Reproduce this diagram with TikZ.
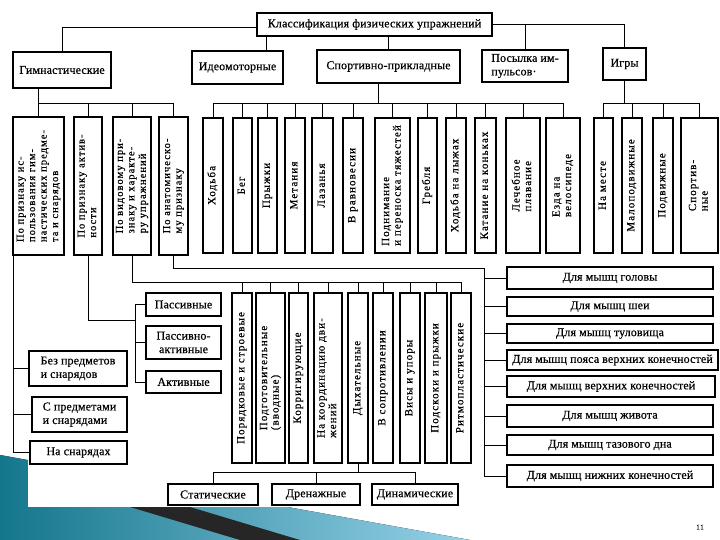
\documentclass[tikz,border=0pt]{standalone}
\usepackage{fontspec}
\setmainfont{Liberation Serif}[LetterSpace=10, FakeBold=0.5]
\newfontfamily\plainfam{Liberation Serif}[LetterSpace=1, FakeBold=0.5]
\usepackage{graphicx}
\usepackage{tikz}
\definecolor{tealdeep}{RGB}{20,118,140}
\definecolor{skylight}{RGB}{150,210,232}
\newcommand{\boxfont}{\plainfam\fontsize{12}{13.5}\selectfont}
\newcommand{\vertfont}{\fontsize{11}{11.5}\selectfont}
\newcommand{\colfont}{\fontsize{10.5}{11.5}\selectfont}
\newcommand{\vt}[1]{\rotatebox{90}{\begin{tabular}{@{}l@{}}#1\end{tabular}}}

\begin{document}
\begin{tikzpicture}[
     x = 1pt, y = -1pt,
     every node/.style = {inner sep = 1pt, outer sep = 0pt},
     box/.style = {draw, black, line width = 1.7pt, anchor = north west,
        align = center, font = \boxfont},
     vbox/.style = {box, font = \vertfont},
     cbox/.style = {box, font = \colfont},
     wh/.style 2 args = {minimum width = #1pt, minimum height = #2pt},
     every path/.style = {line width = .9pt}
     ]
     \useasboundingbox (0,0) rectangle (720,540);

     % slide decoration
     \fill[left color = tealdeep, right color = skylight]
        (0,455) -- (470,540) -- (0,540) -- cycle;
     \fill[white] (28,440) rectangle (480,507);
     \fill[black!85] (130,507) -- (190,507) -- (300,540) -- (240,540) -- cycle;
     \node[font = \fontsize{7}{8}\selectfont] (num) at (700,527) {11};

       \node[box, wh={235}{23}] (top) at (257,13) {Классификация физических упражнений};
       \node[box, wh={98}{36}] (gym) at (13,52) {Гимнастические}; % 0
       \node[box, wh={91}{33}] (ideo) at (192,51) {Идеомоторные}; % 1
       \node[box, wh={143}{33}] (sport) at (317,50) {Спортивно-прикладные}; % 2
       \node[box, wh={86}{32}, align = left] (impuls) at (482,50) {Посылка им-\\пульсов·}; % 3
       \node[box, wh={43}{32}] (games) at (603,48) {Игры}; % 4

       % gymnastics: criteria
       \node[cbox, wh={51}{138}] (c1) at (13,117) {\vt{По признаку ис-\\пользования гим-\\настических предме-\\та и снарядов}};
       \node[cbox, wh={28}{138}] (c2) at (74,117) {\vt{По признаку актив-\\ности}};
       \node[cbox, wh={38}{138}] (c3) at (113,117) {\vt{По видовому при-\\знаку и характе-\\ру упражнений}};
       \node[cbox, wh={29}{138}] (c4) at (159,117) {\vt{По анатомическо-\\му признаку}};

       % sport and applied
       \node[vbox, wh={20}{135}] (hod) at (203,118) {\vt{Ходьба}};
       \node[vbox, wh={19}{135}] (beg) at (233,118) {\vt{Бег}};
       \node[vbox, wh={19}{135}] (pry) at (258,118) {\vt{Прыжки}};
       \node[vbox, wh={20}{135}] (met) at (285,118) {\vt{Метания}};
       \node[vbox, wh={21}{135}] (laz) at (312,118) {\vt{Лазанья}};
       \node[vbox, wh={20}{135}] (ravn) at (343,118) {\vt{В равновесии}};
       \node[vbox, wh={35}{135}] (podn) at (375,118) {\vt{Поднимание\\и переноска тяжестей}};
       \node[vbox, wh={19}{135}] (grebl) at (418,118) {\vt{Гребля}};
       \node[vbox, wh={20}{135}] (lyzh) at (446,118) {\vt{Ходьба на лыжах}};
       \node[vbox, wh={21}{135}] (kon) at (475,118) {\vt{Катание на коньках}};
       \node[vbox, wh={34}{135}] (plav) at (506,118) {\vt{Лечебное\\плавание}};
       \node[vbox, wh={34}{135}] (vel) at (546,118) {\vt{Езда на\\велосипеде}};

       % games
       \node[vbox, wh={19}{135}] (mest) at (594,118) {\vt{На месте}};
       \node[vbox, wh={20}{135}] (malo) at (622,118) {\vt{Малоподвижные}};
       \node[vbox, wh={20}{135}] (podv) at (653,118) {\vt{Подвижные}};
       \node[vbox, wh={37}{135}] (sprt) at (681,118) {\vt{Спортив-\\ные}};

       % by kind
       \node[vbox, wh={20}{170}] (g1) at (232,293) {\vt{Порядковые и строевые}};
       \node[vbox, wh={29}{170}] (g2) at (256,293) {\vt{Подготовительные\\(вводные)}};
       \node[vbox, wh={19}{170}] (g3) at (289,293) {\vt{Корригирующие}};
       \node[vbox, wh={28}{170}] (g4) at (314,293) {\vt{На координацию дви-\\жений}};
       \node[vbox, wh={20}{170}] (g5) at (348,293) {\vt{Дыхательные}};
       \node[vbox, wh={20}{170}] (g6) at (373,293) {\vt{В сопротивлении}};
       \node[vbox, wh={20}{170}] (g7) at (400,293) {\vt{Висы и упоры}};
       \node[vbox, wh={22}{170}] (g8) at (425,293) {\vt{Подскоки и прыжки}};
       \node[vbox, wh={20}{170}] (g9) at (451,293) {\vt{Ритмопластические}};

       \node[box, wh={90}{21}] (stat) at (168,484) {Статические};
       \node[box, wh={88}{21}] (dren) at (272,484) {Дренажные};
       \node[box, wh={86}{21}] (din) at (372,484) {Динамические};

       % by activity
       \node[box, wh={75}{23}] (pas) at (146,293) {Пассивные};
       \node[box, wh={75}{33}] (pakt) at (146,326) {Пассивно-\\активные};
       \node[box, wh={75}{22}] (akt) at (146,371) {Активные};

       % by apparatus
       \node[box, wh={98}{35}, align = left] (bez) at (29,351) {Без предметов\\и снарядов};
       \node[box, wh={95}{35}, align = left] (spred) at (32,397) {С предметами\\и снарядами};
       \node[box, wh={97}{23}] (nasn) at (30,441) {На снарядах};

       % by anatomy
       \node[box, wh={206}{22}] (m1) at (507,267) {Для мышц головы};
       \node[box, wh={206}{19}] (m2) at (507,297) {Для мышц шеи};
       \node[box, wh={206}{19}] (m3) at (507,324) {Для мышц туловища};
       \node[box, wh={211}{20}] (m4) at (507,350) {Для мышц пояса верхних конечностей};
       \node[box, wh={208}{21}] (m5) at (507,376) {Для мышц верхних конечностей};
       \node[box, wh={206}{22}] (m6) at (507,405) {Для мышц живота};
       \node[box, wh={206}{20}] (m7) at (507,435) {Для мышц тазового дна};
       \node[box, wh={206}{22}] (m8) at (507,465) {Для мышц нижних конечностей};

       \coordinate (bus) at (0,103);
       \coordinate (vbus) at (0,282);
       \coordinate (abus) at (484,268);
       \coordinate (pbus) at (135,320);
       \coordinate (dbus) at (0,472);

       \draw ([yshift=-3pt]top.west) -| (gym.north);
       \draw ([xshift=29pt]ideo.north) -- ([xshift=29pt]ideo.north |- top.south);
       \draw (sport.north) -- (sport.north |- top.south);
       \draw (top.east) -| (games.north);
       \draw (impuls.north) -- (impuls.north |- top.east);

       \draw (gym.south -| c1.north) -- (c1.north);
       \draw (c1.north |- bus) -- (c4.north |- bus);
       \foreach \n in {c2,c3,c4}
          \draw (\n.north) -- (\n.north |- bus);

       \draw ([xshift=-10pt]sport.south) -- ([xshift=-10pt]sport.south |- bus);
       \draw (hod.north |- bus) -- (vel.north |- bus);
       \foreach \n in {hod,beg,pry,met,laz,ravn,podn,grebl,lyzh,kon,plav,vel}
          \draw (\n.north) -- (\n.north |- bus);

       \draw (games.south) -- (games.south |- bus);
       \draw (mest.north |- bus) -- (sprt.north |- bus);
       \foreach \n in {mest,malo,podv,sprt}
          \draw (\n.north) -- (\n.north |- bus);

       \draw (c1.south west) |- (nasn.west);
       \draw (bez.west) -- (bez.west -| c1.south west);
       \draw (spred.west) -- (spred.west -| c1.south west);

       \draw (c2.south) |- (pbus);
       \draw (pas.west) -| (pbus);
       \draw (akt.west) -| (pbus);
       \draw (pakt.west) -- (pakt.west -| pbus);

       \draw (c3.south) |- (g9.north |- vbus);
       \foreach \n in {g1,g2,g3,g4,g5,g6,g7,g8,g9}
          \draw (\n.north) -- (\n.north |- vbus);

       \draw (g5.south) -- (g5.south |- dbus);
       \draw (stat.north |- dbus) -- (din.north |- dbus);
       \foreach \n in {stat,dren,din}
          \draw (\n.north) -- (\n.north |- dbus);

       \draw (c4.south) |- (abus);
       \draw (abus) |- (m8.west);
       \foreach \n in {m1,m2,m3,m4,m5,m6,m7}
          \draw (\n.west) -- (\n.west -| abus);
      \end{tikzpicture}
\end{document}
